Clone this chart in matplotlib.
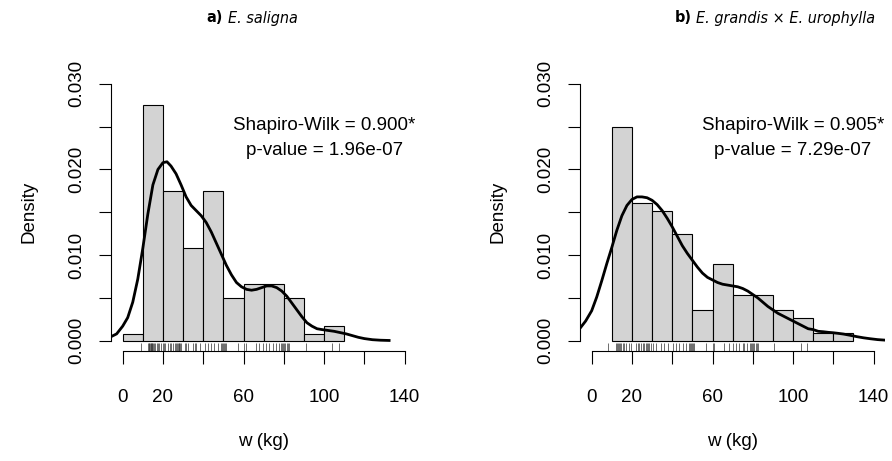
import numpy as np
import matplotlib.pyplot as plt
import matplotlib.transforms as mtransforms
from matplotlib import font_manager

plt.rcParams['font.family'] = ['Liberation Sans', 'DejaVu Sans']

# histogram bins (kg) and densities
edges_a = [0, 10, 20, 30, 40, 50, 60, 70, 80, 90, 100, 110]
dens_a = [0.00083, 0.0275, 0.0175, 0.01083, 0.0175, 0.005, 0.00667, 0.00667,
          0.005, 0.00083, 0.00167]

edges_b = [10, 20, 30, 40, 50, 60, 70, 80, 90, 100, 110, 120, 130]
dens_b = [0.025, 0.01607, 0.01518, 0.0125, 0.00357, 0.00893, 0.00536, 0.00536,
          0.00357, 0.00268, 0.00089, 0.00089]

# kernel density curves (x, density)
kde_x_a = [-5.8, -3, 0, 2.5, 5, 7.5, 10, 12.5, 15, 17.5, 20, 22, 24, 26.5, 29,
           31.5, 34, 36.5, 39, 41.5, 44, 46.5, 49, 51.5, 54, 56.5, 59, 61.5, 64,
           66.5, 69, 71.5, 74, 76.5, 79, 81.5, 84, 86.5, 89, 91.5, 94, 96.5, 99,
           102, 105, 108, 111, 114, 117, 120, 124, 128, 132.3]
kde_y_a = [0.00047, 0.0008, 0.0017, 0.0027, 0.0045, 0.0072, 0.0108, 0.0148,
           0.0182, 0.0200, 0.0208, 0.0209, 0.0204, 0.0195, 0.0182, 0.0168,
           0.0158, 0.0152, 0.0146, 0.0138, 0.0127, 0.0114, 0.0101, 0.0088,
           0.0077, 0.0068, 0.0063, 0.0060, 0.0059, 0.0060, 0.0062, 0.0064,
           0.0064, 0.0062, 0.0058, 0.0052, 0.0044, 0.0036, 0.0028, 0.0021,
           0.0017, 0.0014, 0.0013, 0.0012, 0.0011, 0.00095, 0.0008, 0.0006,
           0.0004, 0.00025, 0.00012, 0.00006, 0.00003]

kde_x_b = [-5.8, -3, 0, 2.5, 5, 7.5, 10, 12.5, 15, 17.5, 20, 22.5, 25, 27.5, 30,
           32.5, 35, 37.5, 40, 42.5, 45, 47.5, 50, 52.5, 55, 57.5, 60, 62.5, 65,
           67.5, 70, 72.5, 75, 77.5, 80, 82.5, 85, 87.5, 90, 92.5, 95, 97.5, 100,
           102.5, 105, 107.5, 110, 112.5, 115, 117.5, 120, 122.5, 125, 128,
           131.8, 135, 138.4, 142, 145.6]
kde_y_b = [0.00145, 0.0023, 0.0035, 0.0051, 0.0070, 0.0090, 0.0109, 0.0129,
           0.0146, 0.0158, 0.0165, 0.0168, 0.0168, 0.0167, 0.0164, 0.0159,
           0.0152, 0.0143, 0.0133, 0.0122, 0.0111, 0.0102, 0.0094, 0.0086,
           0.0079, 0.0074, 0.0071, 0.0068, 0.0066, 0.0065, 0.0064, 0.0063,
           0.0061, 0.0058, 0.0054, 0.0050, 0.0045, 0.0040, 0.0036, 0.0032,
           0.0029, 0.0026, 0.0023, 0.0020, 0.0017, 0.0014, 0.0013, 0.0011,
           0.00105, 0.00098, 0.00093, 0.00086, 0.00078, 0.00065, 0.00047,
           0.00034, 0.00023, 0.00013, 0.00007]

# rug positions (kg)
rug_a = [8.9, 12.6, 13.0, 13.3, 13.6, 13.9, 14.2, 14.5, 14.8, 15.1, 15.6, 16.2,
         16.8, 17.5, 18.2, 19.0, 20.0, 20.4, 20.8, 22.5, 23.3, 24.1, 25.0, 25.8,
         26.6, 27.0, 27.4, 27.8, 28.2, 28.6, 29.1, 30.8, 31.6, 32.4, 34.9, 35.7,
         36.5, 38.2, 40.7, 42.2, 43.8, 45.5, 47.1, 48.8, 49.3, 49.8, 50.3, 50.8,
         51.3, 57.1, 60.4, 61.2, 66.2, 67.8, 69.5, 71.1, 72.8, 74.4, 75.9, 77.6,
         78.4, 79.0, 79.6, 80.2, 80.8, 81.4, 82.0, 82.5, 90.8, 104.0, 107.4]
rug_b = [8.0, 12.1, 12.6, 13.1, 13.6, 14.1, 14.6, 15.4, 16.2, 17.1, 18.7, 19.6,
         22.0, 22.9, 23.7, 24.6, 25.4, 26.2, 26.8, 27.4, 27.9, 28.7, 29.5, 30.3,
         32.0, 34.5, 36.1, 37.8, 40.3, 41.8, 43.4, 45.1, 46.8, 48.4, 48.9, 49.4,
         49.9, 50.4, 50.9, 56.7, 60.0, 60.8, 65.8, 68.3, 70.0, 71.6, 73.3, 74.9,
         75.6, 77.3, 78.4, 79.0, 79.6, 80.2, 80.8, 81.4, 82.1, 82.7, 90.5, 103.8,
         107.1]

xticks = [0, 20, 40, 60, 80, 100, 120, 140]
xlabels = ['0', '20', '', '60', '', '100', '', '140']
yticks = [0, 0.005, 0.010, 0.015, 0.020, 0.025, 0.030]
ylabels = ['0.000', '', '0.010', '', '0.020', '', '0.030']

panels = [
    ('a)', 'E. saligna', edges_a, dens_a, kde_x_a, kde_y_a, rug_a,
     'Shapiro-Wilk = 0.900*', 'p-value = 1.96e-07', 111.4, 252),
    ('b)', 'E. grandis \u00d7 E. urophylla', edges_b, dens_b, kde_x_b, kde_y_b,
     rug_b, 'Shapiro-Wilk = 0.905*', 'p-value = 7.29e-07', 580.4, 775),
]

# title font: a condensed face if one is installed
title_kw = dict(family=['Liberation Sans', 'DejaVu Sans'], fontsize=11)
cond = font_manager.FontProperties(family='DejaVu Sans', stretch='condensed')
if 'Condensed' in font_manager.findfont(cond):
    title_kw = dict(family=['DejaVu Sans'], stretch='condensed', fontsize=11.5)

W, H = 892, 461
fig = plt.figure(figsize=(W / 100, H / 100), dpi=100)

for tag, name, edges, dens, kx, ky, rug, sw, pv, left_px, title_cx in panels:
    ax = fig.add_axes([left_px / W, 1 - 351 / H, 304.5 / W, 277.4 / H])
    ax.bar(edges[:-1], dens, width=10, align='edge', color='#d3d3d3',
           edgecolor='black', linewidth=0.8)
    ax.plot(kx, ky, color='black', linewidth=2.0, solid_joinstyle='round')
    trans = mtransforms.blended_transform_factory(ax.transData, ax.transAxes)
    ax.vlines(rug, 0, 0.03, transform=trans, color='#333333', linewidth=0.5)

    ax.set_xlim(-5.6, 145.6)
    ax.set_ylim(-0.0012, 0.0312)
    for s in ['top', 'right']:
        ax.spines[s].set_visible(False)
    ax.spines['left'].set_bounds(0, 0.03)
    ax.spines['bottom'].set_bounds(0, 140)
    for s in ['left', 'bottom']:
        ax.spines[s].set_linewidth(0.8)
    ax.set_xticks(xticks)
    ax.set_xticklabels(xlabels)
    ax.set_yticks(yticks)
    ax.set_yticklabels(ylabels, rotation=90, va='center')
    ax.tick_params(length=9, width=0.8, labelsize=13.5)
    ax.tick_params(axis='x', pad=18)
    ax.tick_params(axis='y', pad=10)
    ax.set_xlabel('w (kg)', fontsize=13.5, labelpad=20)
    ax.set_ylabel('Density', fontsize=13.5, labelpad=22)

    ax.text(100, 0.0251, sw, ha='center', va='center', fontsize=13.5)
    ax.text(100, 0.0222, pv, ha='center', va='center', fontsize=13.5)

    # title: bold tag + italic species, centred as a pair
    t1 = fig.text(0, 1 - 18 / H, tag, ha='left', va='center',
                  fontweight='bold', **title_kw)
    t2 = fig.text(0, 1 - 18 / H, name, ha='left', va='center',
                  fontstyle='italic', **title_kw)
    fig.canvas.draw()
    w1 = t1.get_window_extent().width
    w2 = t2.get_window_extent().width
    x0 = title_cx - (w1 + 5 + w2) / 2
    t1.set_x(x0 / W)
    t2.set_x((x0 + w1 + 5) / W)

fig.savefig('out.png', dpi=100)
